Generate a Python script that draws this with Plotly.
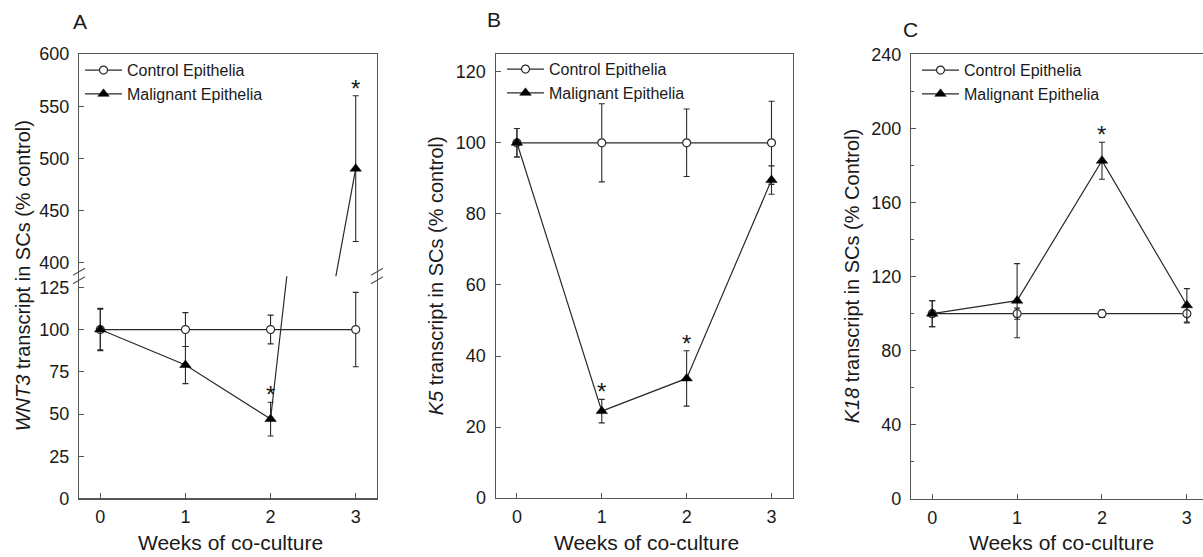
import plotly.graph_objects as go

W, H = 1203, 557

weeks = [0, 1, 2, 3]
week_labels = ["0", "1", "2", "3"]

# Panel A: WNT3
wnt3_control = [100, 100, 100, 100]
wnt3_control_err = [12.5, 10, 8.5, 22]
wnt3_malig = [100, 79, 47, 490]
wnt3_malig_err = [12, 11, 10, 70]
wnt3_sig = [2, 3]

# Panel B: K5
k5_control = [100, 100, 100, 100]
k5_control_err = [4, 11, 9.5, 11.7]
k5_malig = [100, 24.5, 33.7, 89.5]
k5_malig_err = [4, 3.3, 7.8, 4]
k5_sig = [1, 2]

# Panel C: K18
k18_control = [100, 100, 100, 100]
k18_control_err = [7, 3, 2, 5]
k18_malig = [100, 107, 182.6, 104.5]
k18_malig_err = [7, 20, 10, 9]
k18_sig = [2]

FONT = "Liberation Sans, Arial, sans-serif"
LINE = "#2a2a2a"
AXC = "#555555"
TXT = "#1a1a1a"

# effective rendered plot height / offset observed in the viewer
TOP_OFF, H_EFF = 8.7, 539.0


def px(x):
    return x / W


def py(y):
    return 1 - (y - TOP_OFF) / H_EFF


fig = go.Figure()


def add_pair(ctrl, ctrl_err, mal, mal_err, xa, ya, legend, show=True):
    fig.add_trace(go.Scatter(
        x=weeks, y=ctrl, mode="lines+markers", name="Control Epithelia",
        xaxis=xa, yaxis=ya, legend=legend, showlegend=show,
        line=dict(color=LINE, width=1.2),
        marker=dict(symbol="circle", size=8, color="white", line=dict(color=LINE, width=1.2)),
        error_y=dict(type="data", array=ctrl_err, visible=True, color=LINE, thickness=1.1, width=3),
    ))
    fig.add_trace(go.Scatter(
        x=weeks, y=mal, mode="lines+markers", name="Malignant Epithelia",
        xaxis=xa, yaxis=ya, legend=legend, showlegend=show,
        line=dict(color=LINE, width=1.2),
        marker=dict(symbol="triangle-up", size=10, color="black", line=dict(color="black", width=0.5)),
        error_y=dict(type="data", array=mal_err, visible=True, color=LINE, thickness=1.1, width=3),
    ))


# Panel A (broken axis: lower + upper)
add_pair(wnt3_control, wnt3_control_err, wnt3_malig, wnt3_malig_err, "x", "y", "legend", True)
add_pair(wnt3_control, wnt3_control_err, wnt3_malig, wnt3_malig_err, "x2", "y2", "legend", False)
# Panel B
add_pair(k5_control, k5_control_err, k5_malig, k5_malig_err, "x3", "y3", "legend2", True)
# Panel C
add_pair(k18_control, k18_control_err, k18_malig, k18_malig_err, "x4", "y4", "legend3", True)

tickfont = dict(family=FONT, size=18, color=TXT)
common_x = dict(range=[-0.25, 3.25], tickvals=weeks, ticktext=week_labels, ticks="inside",
                ticklen=5, tickcolor=AXC, showline=True, linecolor=AXC, linewidth=1.2,
                showgrid=False, zeroline=False, tickfont=tickfont, ticklabelstandoff=2)
common_y = dict(ticks="inside", ticklen=5, tickcolor=AXC, showline=True, linecolor=AXC,
                linewidth=1.2, showgrid=False, zeroline=False, tickfont=tickfont,
                ticklabelstandoff=5)

A_dom = [px(79), px(377)]
B_dom = [px(495.7), px(792.7)]
C_dom = [px(911), 1.0]

fig.update_layout(
    width=W, height=H, autosize=False,
    margin=dict(l=0, r=0, t=0, b=0, pad=0),
    paper_bgcolor="white", plot_bgcolor="white",
    font=dict(family=FONT, color=TXT),
    xaxis=dict(common_x, domain=A_dom, anchor="y", mirror=False),
    yaxis=dict(common_y, domain=[py(499), py(276)], range=[0, 131.5], tickvals=[0, 25, 50, 75, 100, 125],
               anchor="x", mirror=True),
    xaxis2=dict(common_x, domain=A_dom, anchor="y2", matches="x", side="top", ticks="",
                showticklabels=False, mirror=False),
    yaxis2=dict(common_y, domain=[py(276), py(53)], range=[386.6, 600], tickvals=[400, 450, 500, 550, 600],
                anchor="x2", mirror=True),
    xaxis3=dict(common_x, domain=B_dom, anchor="y3", mirror=True),
    yaxis3=dict(common_y, domain=[py(498.7), py(52.8)], range=[0, 125], tickvals=[0, 20, 40, 60, 80, 100, 120],
                anchor="x3", mirror=True),
    xaxis4=dict(common_x, domain=C_dom, anchor="y4", mirror=True),
    yaxis4=dict(common_y, domain=[py(499.3), py(53.3)], range=[0, 240], tickvals=[0, 40, 80, 120, 160, 200, 240],
                anchor="x4", mirror=False,
                minor=dict(ticks="inside", ticklen=3, tickcolor=AXC, tickvals=[20, 60, 100, 140, 180, 220])),
)
fig.update_layout(xaxis4_range=[-0.25, 3.19])

leg_common = dict(bgcolor="rgba(0,0,0,0)", font=dict(family=FONT, size=16, color=TXT),
                  xanchor="left", yanchor="top", itemwidth=37, tracegroupgap=0)
fig.update_layout(
    legend=dict(leg_common, x=px(80), y=py(52)),
    legend2=dict(leg_common, x=px(502), y=py(51)),
    legend3=dict(leg_common, x=px(917), y=py(52)),
)

# Axis-break marks on panel A
shapes = []
for xc in (79, 377):
    for yc in (271.5, 280):
        shapes.append(dict(type="line", xref="paper", yref="paper",
                           x0=px(xc - 6), y0=py(yc + 3.5), x1=px(xc + 6), y1=py(yc - 3.5),
                           line=dict(color=AXC, width=1.2)))
fig.update_layout(shapes=shapes)

ann = []
# Panel letters
for letter, xx, yy in (("A", 80, 20), ("B", 494, 18), ("C", 910, 28)):
    ann.append(dict(text=letter, x=px(xx), y=py(yy), xref="paper", yref="paper", showarrow=False,
                    font=dict(family=FONT, size=21, color=TXT), xanchor="center", yanchor="middle"))
# Y titles
for t, xx, yc in (("<i>WNT3</i> transcript in SCs (% control)", 23, 276),
                  ("<i>K5</i> transcript in SCs (% control)", 436, 276),
                  ("<i>K18</i> transcript in SCs (% Control)", 852, 276)):
    ann.append(dict(text=t, x=px(xx), y=py(yc), xref="paper", yref="paper", showarrow=False,
                    textangle=-90, font=dict(family=FONT, size=20, color=TXT),
                    xanchor="center", yanchor="middle"))
# X titles
for xx in (230, 646, 1061):
    ann.append(dict(text="Weeks of co-culture", x=px(xx), y=py(543), xref="paper", yref="paper",
                    showarrow=False, font=dict(family=FONT, size=21, color=TXT),
                    xanchor="center", yanchor="middle"))


# Significance asterisks
def star(xa, ya, wk, val, err):
    ann.append(dict(text="*", x=wk, y=val + err, xref=xa, yref=ya, showarrow=False,
                    font=dict(family=FONT, size=24, color=TXT), xanchor="center",
                    yanchor="bottom", yshift=-8))


for wk in wnt3_sig:
    i = weeks.index(wk)
    top = wnt3_malig[i] + wnt3_malig_err[i]
    upper = top > 131.5
    star("x2" if upper else "x", "y2" if upper else "y", wk, wnt3_malig[i], wnt3_malig_err[i])
for wk in k5_sig:
    i = weeks.index(wk)
    star("x3", "y3", wk, k5_malig[i], k5_malig_err[i])
for wk in k18_sig:
    i = weeks.index(wk)
    star("x4", "y4", wk, k18_malig[i], k18_malig_err[i])

fig.update_layout(annotations=ann)

fig.write_html("out.html",
               config={"responsive": False, "displayModeBar": False, "staticPlot": True},
               post_script="document.body.style.margin='0';document.body.style.overflow='hidden';")
